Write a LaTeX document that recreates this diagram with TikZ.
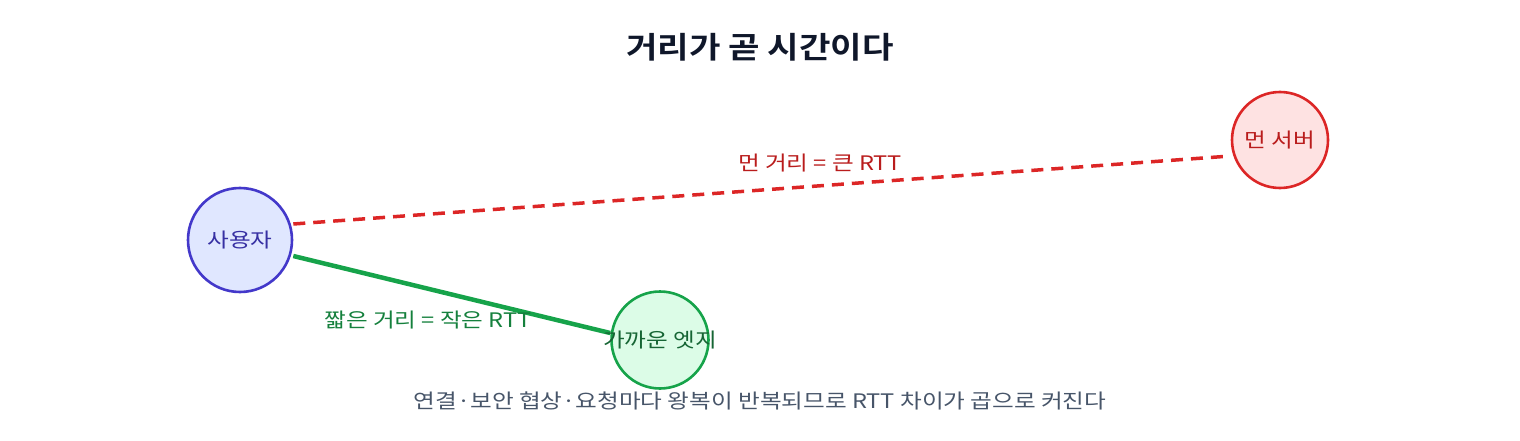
\documentclass[tikz,border=0pt]{standalone}
\usepackage{fontspec}
\setmainfont{Noto Sans CJK KR}
\newfontfamily\txtfont[FakeStretch=1.18]{Noto Sans CJK KR}
\newfontfamily\ttlfont[FakeStretch=1.14]{Noto Sans CJK KR Bold}
\usetikzlibrary{calc}
\definecolor{titlec}{HTML}{0F172A}
\definecolor{capc}{HTML}{475569}
\definecolor{redc}{HTML}{DC2626}
\definecolor{redfill}{HTML}{FEE2E2}
\definecolor{redtext}{HTML}{B91C1C}
\definecolor{bluec}{HTML}{4338CA}
\definecolor{bluefill}{HTML}{E0E7FF}
\definecolor{bluetext}{HTML}{3730A3}
\definecolor{greenc}{HTML}{16A34A}
\definecolor{greenfill}{HTML}{DCFCE7}
\definecolor{greentext}{HTML}{166534}
\definecolor{greenlab}{HTML}{15803D}
\tikzset{
  x=1pt, y=1pt,
  place/.style={circle, line width=2.6pt, inner sep=0pt},
  lab/.style={font=\txtfont\fontsize{20}{24}\selectfont, inner sep=0pt},
}
\begin{document}
\begin{tikzpicture}
\useasboundingbox (0,0) rectangle (1520,440);
\node[font=\ttlfont\fontsize{30}{36}\selectfont, text=titlec] (title) at (760,393) {거리가 곧 시간이다};
\node[place, draw=bluec, fill=bluefill, minimum size=104pt] (user) at (240,200) {};
\node[lab, text=bluetext] (usertxt) at (user.center) {사용자};
\node[place, draw=greenc, fill=greenfill, minimum size=97pt] (edge) at (660,100) {};
\node[place, draw=redc, fill=redfill, minimum size=96pt] (server) at (1280,300) {};
\node[lab, text=redtext] (servertxt) at (server.center) {먼 서버};
\draw[redc, line width=3.5pt, dash pattern=on 12pt off 8pt] ($(user.east)+(0,16)$) -- ($(server.west)+(0,-16)$);
\draw[greenc, line width=4.5pt] ($(user.east)+(0,-16)$) -- ($(edge.west)+(0,7)$);
\node[lab, text=greentext] (edgetxt) at (edge.center) {가까운 엣지};
\node[lab, text=redtext] (farlab) at (820,277) {먼 거리 = 큰 RTT};
\node[lab, text=greenlab] (nearlab) at (428,120) {짧은 거리 = 작은 RTT};
\node[lab, text=capc] (cap) at (760,39) {연결·보안 협상·요청마다 왕복이 반복되므로 RTT 차이가 곱으로 커진다};
\end{tikzpicture}
\end{document}
